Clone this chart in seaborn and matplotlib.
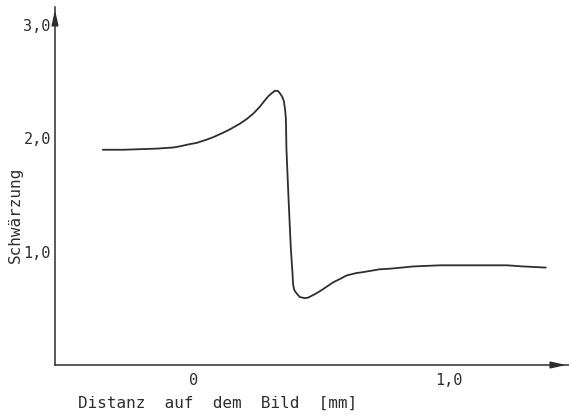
import matplotlib
matplotlib.use("Agg")
import matplotlib.pyplot as plt
import seaborn as sns
import pandas as pd

# Messpunkte
distanz = [-0.353, -0.272, -0.142, -0.077, -0.052, -0.012, 0.013, 0.054,
           0.078, 0.117, 0.144, 0.183, 0.209, 0.236, 0.261, 0.275, 0.293,
           0.308, 0.320, 0.331, 0.339, 0.348, 0.355, 0.360, 0.363, 0.365,
           0.373, 0.382, 0.386, 0.389, 0.391, 0.396, 0.402, 0.417, 0.437,
           0.450, 0.463, 0.480, 0.502, 0.525, 0.548, 0.575, 0.600, 0.635,
           0.665, 0.730, 0.770, 0.862, 0.966, 1.095, 1.160, 1.227, 1.290,
           1.379]
schwaerzung = [1.90, 1.90, 1.91, 1.92, 1.93, 1.95, 1.96, 1.99,
               2.01, 2.05, 2.08, 2.13, 2.17, 2.22, 2.28, 2.32, 2.37,
               2.40, 2.42, 2.42, 2.40, 2.37, 2.33, 2.25, 2.17, 1.91,
               1.48, 1.04, 0.90, 0.80, 0.71, 0.66, 0.64, 0.60, 0.59,
               0.595, 0.61, 0.63, 0.66, 0.695, 0.73, 0.76, 0.79, 0.81,
               0.82, 0.845, 0.85, 0.87, 0.88, 0.88, 0.88, 0.88, 0.87,
               0.86]

xticks = [0, 1.0]
xticklabels = ["0", "1,0"]
yticks = [1.0, 2.0, 3.0]
yticklabels = ["1,0", "2,0", "3,0"]

sns.set_style("white")
plt.rcParams["font.family"] = ["DejaVu Sans Mono"]
ink = "#2e2e2e"

df = pd.DataFrame({"x": distanz, "y": schwaerzung})

fig = plt.figure(figsize=(5.69, 4.15), dpi=100)
ax = fig.add_axes([55 / 569, 1 - 365 / 415, 514 / 569, 358 / 415])

sns.lineplot(data=df, x="x", y="y", ax=ax, color=ink, linewidth=1.3,
             sort=False, estimator=None, solid_joinstyle="round",
             solid_capstyle="round")

ax.set_xlim(-0.54, 1.47)
ax.set_ylim(0, 3.16)

for s in ["top", "right"]:
    ax.spines[s].set_visible(False)
for s in ["left", "bottom"]:
    ax.spines[s].set_color(ink)
    ax.spines[s].set_linewidth(1.1)

# Pfeilspitzen an den Achsenenden
ax.annotate("", xy=(1, 0), xytext=(0.96, 0), xycoords="axes fraction",
            arrowprops=dict(arrowstyle="-|>,head_length=0.9,head_width=0.2",
                            color=ink, lw=1.1), annotation_clip=False)
ax.annotate("", xy=(0, 1), xytext=(0, 0.95), xycoords="axes fraction",
            arrowprops=dict(arrowstyle="-|>,head_length=0.9,head_width=0.2",
                            color=ink, lw=1.1), annotation_clip=False)

ax.set_xticks(xticks)
ax.set_xticklabels(xticklabels)
ax.set_yticks(yticks)
ax.set_yticklabels(yticklabels)
ax.tick_params(axis="both", direction="in", length=4, width=1, color=ink,
               labelcolor=ink, labelsize=11)
ax.tick_params(axis="y", pad=3)
ax.tick_params(axis="x", pad=6)

ax.set_xlabel("Distanz  auf  dem  Bild  [mm]", fontsize=11.5, color=ink,
              ha="left", va="center")
ax.xaxis.set_label_coords(0.045, -0.106)
ax.set_ylabel("Schwärzung", fontsize=11.5, color=ink, va="center")
ax.yaxis.set_label_coords(-0.078, 0.419)

fig.savefig("out.png", dpi=100)
